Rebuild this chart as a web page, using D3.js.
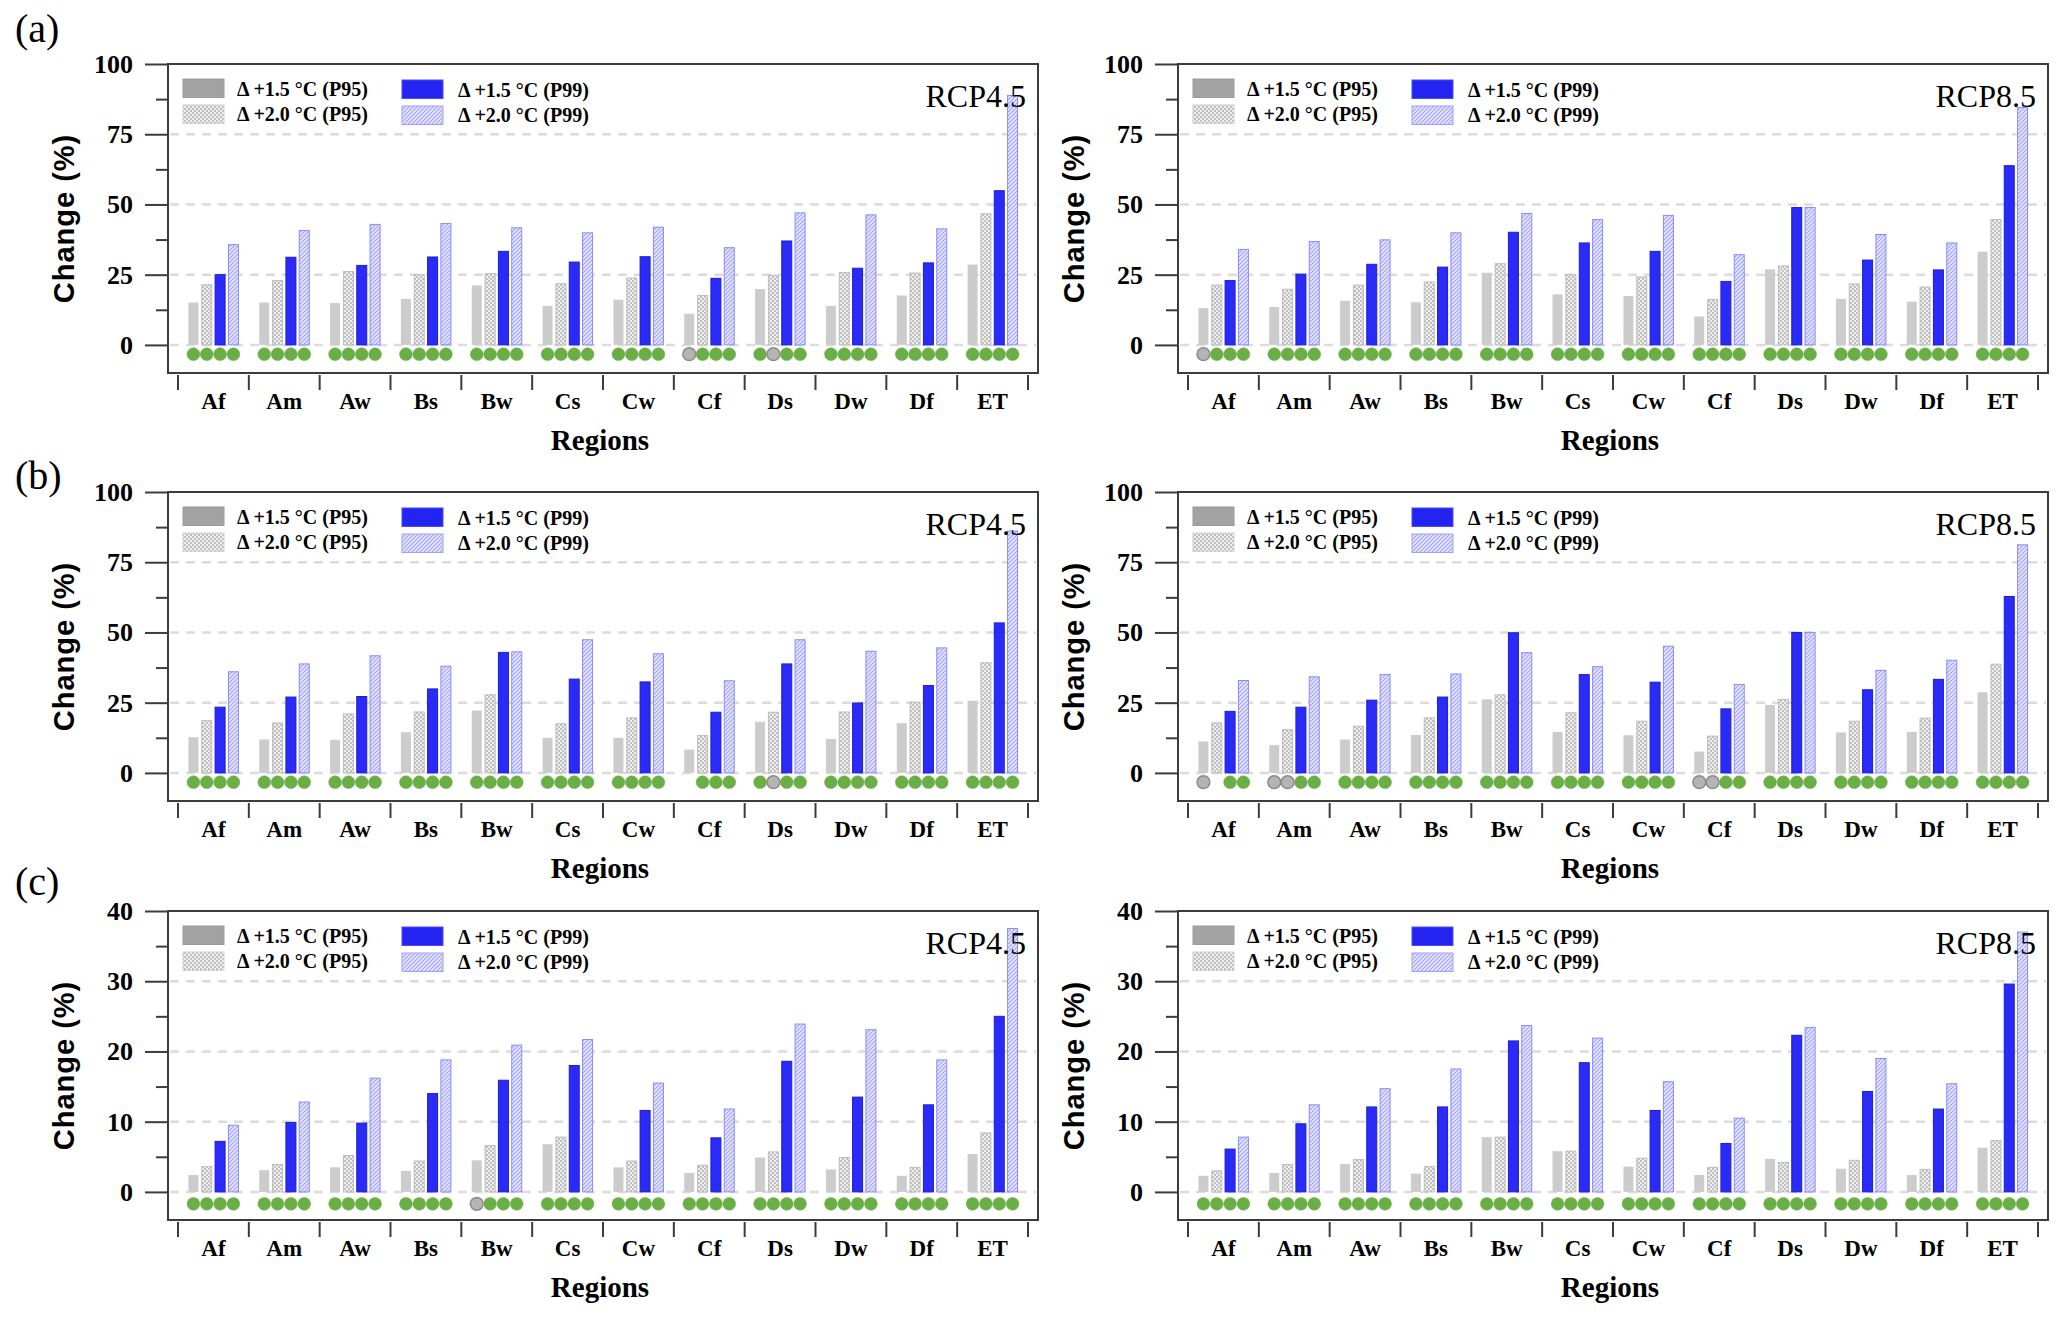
<!DOCTYPE html>
<html><head><meta charset="utf-8">
<script src="https://cdn.jsdelivr.net/npm/d3@7"></script>
<style>html,body{margin:0;padding:0;background:#fff;}svg{display:block;}</style>
</head><body>
<svg id="chart" width="2067" height="1318"></svg>
<script>
// ---------------- DATA ----------------
const categories = ["Af","Am","Aw","Bs","Bw","Cs","Cw","Cf","Ds","Dw","Df","ET"];
const seriesNames = ["\u0394 +1.5 \u00B0C (P95)","\u0394 +2.0 \u00B0C (P95)","\u0394 +1.5 \u00B0C (P99)","\u0394 +2.0 \u00B0C (P99)"];
const panelLabels = ["(a)","(b)","(c)"];
const scenarioLabels = ["RCP4.5","RCP8.5"];
const ticksAB = [0,25,50,75,100];
const minorAB = [12.5,37.5,62.5,87.5];
const ticksC = [0,10,20,30,40];
const minorC = [5,15,25,35];

// (a) RCP4.5
const a45_p95_15 = [15.1,15.1,14.9,16.4,21.2,13.9,16.1,11.1,19.9,13.9,17.6,28.6];
const a45_p95_20 = [21.4,22.9,26.1,25.0,25.4,21.8,23.8,17.6,24.8,25.8,25.6,46.7];
const a45_p99_15 = [25.0,31.2,28.3,31.3,33.3,29.5,31.4,23.7,37.0,27.3,29.2,54.9];
const a45_p99_20 = [35.7,40.7,42.9,43.2,41.7,39.9,41.9,34.6,47.0,46.3,41.3,88.8];
const a45_dots = ["gggg","gggg","gggg","gggg","gggg","gggg","gggg","nggg","gngg","gggg","gggg","gggg"];
// (a) RCP8.5
const a85_p95_15 = [13.1,13.5,15.7,15.2,25.7,18.0,17.4,10.1,26.9,16.4,15.4,33.2];
const a85_p95_20 = [21.3,19.8,21.3,22.4,28.9,25.0,24.2,16.2,28.1,21.7,20.6,44.6];
const a85_p99_15 = [22.9,25.2,28.7,27.7,40.1,36.3,33.3,22.6,48.9,30.2,26.7,63.8];
const a85_p99_20 = [34.0,36.8,37.4,39.9,46.8,44.6,46.1,32.1,48.9,39.3,36.3,84.5];
const a85_dots = ["nggg","gggg","gggg","gggg","gggg","gggg","gggg","gggg","gggg","gggg","gggg","gggg"];
// (b) RCP4.5
const b45_p95_15 = [12.7,11.9,11.8,14.5,22.2,12.5,12.5,8.3,18.2,12.1,17.7,25.7];
const b45_p95_20 = [18.6,17.8,21.0,21.7,27.8,17.5,19.6,13.3,21.6,21.7,25.2,39.2];
const b45_p99_15 = [23.4,27.0,27.2,29.9,42.9,33.4,32.4,21.6,38.8,24.9,31.1,53.4];
const b45_p99_20 = [36.0,38.8,41.7,38.0,43.1,47.4,42.4,32.8,47.4,43.3,44.5,86.1];
const b45_dots = ["gggg","gggg","gggg","gggg","gggg","gggg","gggg","-ggg","gngg","gggg","gggg","gggg"];
// (b) RCP8.5
const b85_p95_15 = [11.2,9.9,11.9,13.5,26.2,14.6,13.4,7.6,24.2,14.4,14.6,28.7];
const b85_p95_20 = [17.8,15.4,16.6,19.6,27.8,21.4,18.4,13.1,26.1,18.4,19.5,38.7];
const b85_p99_15 = [21.9,23.4,25.9,27.0,49.9,35.0,32.3,22.8,50.0,29.6,33.3,62.8];
const b85_p99_20 = [32.9,34.2,35.0,35.2,42.8,37.8,45.1,31.5,50.0,36.5,40.1,81.2];
const b85_dots = ["n-gg","nngg","gggg","gggg","gggg","gggg","gggg","nngg","gggg","gggg","gggg","gggg"];
// (c) RCP4.5
const c45_p95_15 = [2.4,3.1,3.5,3.0,4.5,6.8,3.5,2.7,4.9,3.2,2.3,5.4];
const c45_p95_20 = [3.6,3.9,5.2,4.4,6.6,7.8,4.4,3.8,5.7,4.9,3.5,8.4];
const c45_p99_15 = [7.2,9.9,9.8,14.0,15.9,18.0,11.6,7.7,18.6,13.5,12.4,25.0];
const c45_p99_20 = [9.5,12.8,16.2,18.8,20.9,21.7,15.5,11.8,23.9,23.1,18.8,37.5];
const c45_dots = ["gggg","gggg","gggg","gggg","nggg","gggg","gggg","gggg","gggg","gggg","gggg","gggg"];
// (c) RCP8.5
const c85_p95_15 = [2.3,2.7,4.0,2.6,7.8,5.8,3.6,2.4,4.7,3.3,2.4,6.3];
const c85_p95_20 = [3.0,3.9,4.6,3.6,7.8,5.8,4.8,3.5,4.2,4.5,3.2,7.3];
const c85_p99_15 = [6.1,9.7,12.1,12.1,21.5,18.4,11.6,6.9,22.3,14.3,11.8,29.6];
const c85_p99_20 = [7.8,12.4,14.7,17.5,23.7,21.9,15.7,10.5,23.4,19.0,15.4,37.0];
const c85_dots = ["gggg","gggg","gggg","gggg","gggg","gggg","gggg","gggg","gggg","gggg","gggg","gggg"];

// dot marker level (value units) per row
const dotLevel = [-3.3, -3.3, -1.7];

// ---------------- LAYOUT / STYLE ----------------
const colLeft = [168, 1178];
const rowTop = [64, 492, 911];
const PW = 870, PH = 309;
const labelBaselines = [42, 489, 895];
const serif = "'Liberation Serif','Times New Roman',Times,serif";
const sans = "'Liberation Sans',Arial,Helvetica,sans-serif";

const panels = [
  {r:0,c:0,data:[a45_p95_15,a45_p95_20,a45_p99_15,a45_p99_20],dots:a45_dots,dom:[-10,100],major:ticksAB,minor:minorAB},
  {r:0,c:1,data:[a85_p95_15,a85_p95_20,a85_p99_15,a85_p99_20],dots:a85_dots,dom:[-10,100],major:ticksAB,minor:minorAB},
  {r:1,c:0,data:[b45_p95_15,b45_p95_20,b45_p99_15,b45_p99_20],dots:b45_dots,dom:[-10,100],major:ticksAB,minor:minorAB},
  {r:1,c:1,data:[b85_p95_15,b85_p95_20,b85_p99_15,b85_p99_20],dots:b85_dots,dom:[-10,100],major:ticksAB,minor:minorAB},
  {r:2,c:0,data:[c45_p95_15,c45_p95_20,c45_p99_15,c45_p99_20],dots:c45_dots,dom:[-4,40],major:ticksC,minor:minorC},
  {r:2,c:1,data:[c85_p95_15,c85_p95_20,c85_p99_15,c85_p99_20],dots:c85_dots,dom:[-4,40],major:ticksC,minor:minorC}
];

const svg = d3.select("#chart");
svg.append("rect").attr("width",2067).attr("height",1318).attr("fill","#fff");

// patterns
const defs = svg.append("defs");
const pg = defs.append("pattern").attr("id","grayHatch").attr("patternUnits","userSpaceOnUse").attr("width",4).attr("height",4);
pg.append("rect").attr("width",4).attr("height",4).attr("fill","#efefef");
pg.append("rect").attr("width",2).attr("height",2).attr("fill","#bfbfbf");
pg.append("rect").attr("x",2).attr("y",2).attr("width",2).attr("height",2).attr("fill","#bfbfbf");
const pb = defs.append("pattern").attr("id","blueHatch").attr("patternUnits","userSpaceOnUse").attr("width",4).attr("height",4);
pb.append("rect").attr("width",4).attr("height",4).attr("fill","#e8e8ff");
pb.append("path").attr("d","M-1,1 l2,-2 M0,4 l4,-4 M3,5 l2,-2").attr("stroke","#a2a2ff").attr("stroke-width",1.2);

const barFill = ["#cccccc","url(#grayHatch)","#2b2bf8","url(#blueHatch)"];
const barStroke = ["none","#bdbdbd","#1c1cd8","#8a8aff"];
const legendFill = ["#a3a3a3","url(#grayHatch)","#2424f2","url(#blueHatch)"];
const legendStroke = ["#9a9a9a","#d2d2d2","#4a4aff","#a0a0ff"];

panels.forEach(p => {
  const left = colLeft[p.c], top = rowTop[p.r];
  const g = svg.append("g");
  const y = d3.scaleLinear().domain(p.dom).range([top+PH, top]);
  const x = d3.scaleBand().domain(categories).range([left+10, left+PW-10]);
  const xi = d3.scaleBand().domain([0,1,2,3]).range([0,50]).paddingInner(0.25);

  // grid lines
  const gridVals = p.major.filter(v => v < p.dom[1]);
  g.selectAll(".grid").data(gridVals).enter().append("line")
    .attr("x1",left+2).attr("x2",left+PW-2)
    .attr("y1",d=>y(d)).attr("y2",d=>y(d))
    .attr("stroke","#dcdcdc").attr("stroke-width",2.5).attr("stroke-dasharray","9,7");

  // bars
  p.data.forEach((vals, s) => {
    g.selectAll(".bar"+s).data(vals).enter().append("rect")
      .attr("x",(d,i)=>x(categories[i]) + x.bandwidth()/2 - 25 + xi(s))
      .attr("width",xi.bandwidth())
      .attr("y",d=>y(Math.max(0,d)))
      .attr("height",d=>Math.abs(y(0)-y(d)))
      .attr("fill",barFill[s])
      .attr("stroke",barStroke[s]).attr("stroke-width",1);
  });

  // significance dots
  const dotData = [];
  p.dots.forEach((str,i) => {
    for (let s=0;s<4;s++){
      const ch = str[s];
      if (ch === "-") continue;
      dotData.push({c:categories[i], s:s, k:ch});
    }
  });
  g.selectAll(".dot").data(dotData).enter().append("circle")
    .attr("cx",d=>x(d.c) + x.bandwidth()/2 - 25 + xi(d.s) + xi.bandwidth()/2)
    .attr("cy",y(dotLevel[p.r]))
    .attr("r",6.4)
    .attr("fill",d=>d.k==="g" ? "#6aae46" : "#b4b4b4")
    .attr("stroke",d=>d.k==="g" ? "#6aae46" : "#8c8c8c")
    .attr("stroke-width",d=>d.k==="g" ? 0.5 : 1.5);

  // frame
  g.append("rect").attr("x",left).attr("y",top).attr("width",PW).attr("height",PH)
    .attr("fill","none").attr("stroke","#3c3c3c").attr("stroke-width",2);

  // y axis
  const ya = g.append("g").attr("transform",`translate(${left},0)`)
    .call(d3.axisLeft(y).tickValues(p.major).tickSize(23).tickPadding(12).tickFormat(d3.format("d")));
  ya.select(".domain").remove();
  ya.selectAll("line").attr("stroke","#3c3c3c").attr("stroke-width",2);
  ya.selectAll("text").attr("font-family",serif).attr("font-weight","bold").attr("font-size",26).attr("fill","#000");
  const ym = g.append("g").attr("transform",`translate(${left},0)`)
    .call(d3.axisLeft(y).tickValues(p.minor).tickSize(12).tickFormat(""));
  ym.select(".domain").remove();
  ym.selectAll("line").attr("stroke","#3c3c3c").attr("stroke-width",2);

  // x axis boundary ticks
  const bounds = categories.map(c=>x(c)).concat([x.range()[1]]);
  g.selectAll(".xt").data(bounds).enter().append("line")
    .attr("x1",d=>d).attr("x2",d=>d)
    .attr("y1",top+PH+2).attr("y2",top+PH+17)
    .attr("stroke","#3c3c3c").attr("stroke-width",2);
  const xa = g.append("g").attr("transform",`translate(0,${top+PH})`)
    .call(d3.axisBottom(x).tickSize(0));
  xa.select(".domain").remove();
  xa.selectAll("text").attr("y",36).attr("dy",0)
    .attr("font-family",serif).attr("font-weight","bold").attr("font-size",23).attr("fill","#000");

  // axis titles
  g.append("text").attr("x",left+PW/2 - 3).attr("y",top+PH+77)
    .attr("text-anchor","middle").attr("font-family",serif).attr("font-weight","bold").attr("font-size",29)
    .text("Regions");
  g.append("text").attr("transform",`translate(${left-94},${top+PH/2}) rotate(-90)`)
    .attr("text-anchor","middle").attr("font-family",sans).attr("font-weight","bold").attr("font-size",29)
    .attr("letter-spacing",1)
    .text("Change (%)");

  // scenario label
  g.append("text").attr("x",left+PW-12).attr("y",top+43).attr("text-anchor","end")
    .attr("font-family",serif).attr("font-size",32).text(scenarioLabels[p.c]);

  // legend
  const legPos = [[15,15],[15,41],[234,16],[234,42]];
  const txtPos = [[69,32],[69,57],[290,33],[290,58]];
  seriesNames.forEach((name,s)=>{
    g.append("rect").attr("x",left+legPos[s][0]).attr("y",top+legPos[s][1])
      .attr("width",41).attr("height",18.5)
      .attr("fill",legendFill[s]).attr("stroke",legendStroke[s]).attr("stroke-width",1);
    g.append("text").attr("x",left+txtPos[s][0]).attr("y",top+txtPos[s][1])
      .attr("font-family",serif).attr("font-weight","bold").attr("font-size",20).text(name);
  });
});

// panel letters
panelLabels.forEach((t,r)=>{
  svg.append("text").attr("x",15).attr("y",labelBaselines[r])
    .attr("font-family",serif).attr("font-size",40).text(t);
});
</script>
</body></html>
